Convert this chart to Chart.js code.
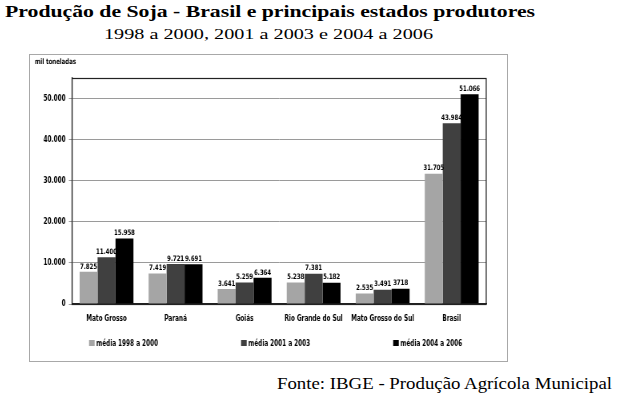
<!DOCTYPE html>
<html>
<head>
<meta charset="utf-8">
<script src="https://cdn.jsdelivr.net/npm/chart.js@4.4.1/dist/chart.umd.min.js"></script>
<style>
  html, body { margin: 0; padding: 0; background: #fff; }
  body { width: 618px; height: 401px; position: relative; overflow: hidden; }
  .txt { position: absolute; white-space: nowrap; font-family: 'Liberation Serif', 'Times New Roman', serif; color: #000; transform-origin: 0 0; }
  #title { left: 5px; top: 3px; font-size: 17px; line-height: 17px; font-weight: bold; }
  #subtitle { left: 104px; top: 27px; font-size: 15px; line-height: 15px; }
  #source { left: 277px; top: 376px; font-size: 16px; line-height: 16px; }
  #box { position: absolute; left: 29px; top: 54px; width: 477px; height: 306px; border: 1px solid #a8a8a8; }
  #box canvas { display: block; }
</style>
</head>
<body>
<div id="title" class="txt" data-w="530">Produção de Soja - Brasil e principais estados produtores</div>
<div id="subtitle" class="txt" data-w="329">1998 a 2000, 2001 a 2003 e 2004 a 2006</div>
<div id="box"><canvas id="c" width="596" height="306" style="width:477px;height:306px"></canvas></div>
<div id="source" class="txt" data-w="335">Fonte: IBGE - Produção Agrícola Municipal</div>
<script>
// ---- data ----
const categories = ['Mato Grosso', 'Paraná', 'Goiás', 'Rio Grande do Sul', 'Mato Grosso do Sul', 'Brasil'];
const seriesNames = ['média 1998 a 2000', 'média 2001 a 2003', 'média 2004 a 2006'];
const media1998a2000 = [7825, 7419, 3641, 5238, 2535, 31705];
const media2001a2003 = [11400, 9721, 5259, 7381, 3491, 43984];
const media2004a2006 = [15958, 9691, 6364, 5182, 3718, 51066];
const yTicks = [0, 10000, 20000, 30000, 40000, 50000];
const yMax = 55000;
const unitLabel = 'mil toneladas';
// label shown without thousands separator in the original
const labelOverrides = { '2,4': '3718' };

const seriesColors = ['#a5a5a5', '#404040', '#000000'];
const chartFont = "'DejaVu Sans Condensed', 'DejaVu Sans', sans-serif";
// canvas is drawn wider and displayed condensed (text looks like a condensed face)
const K = 477 / 596;

function fmt(v) { return String(v).replace(/\B(?=(\d{3})+(?!\d))/g, '.'); }

// stretch HTML texts to match reference width
document.querySelectorAll('.txt').forEach(el => {
  const target = parseFloat(el.dataset.w);
  const w = el.getBoundingClientRect().width;
  if (w > 0) el.style.transform = 'scaleX(' + (target / w) + ')';
});

const valueLabels = {
  id: 'valueLabels',
  afterDatasetsDraw(chart) {
    const ctx = chart.ctx;
    ctx.save();
    ctx.font = 'bold 7.5px ' + chartFont;
    ctx.fillStyle = '#000';
    ctx.textAlign = 'center';
    ctx.textBaseline = 'bottom';
    chart.data.datasets.forEach((ds, di) => {
      const meta = chart.getDatasetMeta(di);
      meta.data.forEach((bar, i) => {
        const key = di + ',' + i;
        const txt = labelOverrides[key] || fmt(ds.data[i]);
        ctx.fillText(txt, bar.x, bar.y - 1.5);
      });
    });
    ctx.restore();
  }
};

const plotBorder = {
  id: 'plotBorder',
  afterDatasetsDraw(chart) {
    const a = chart.chartArea;
    const ctx = chart.ctx;
    ctx.save();
    ctx.strokeStyle = '#222';
    ctx.lineWidth = 1.2;
    ctx.strokeRect(a.left, Math.round(a.top) + 0.5, a.right - a.left, Math.round(a.bottom - a.top));
    ctx.restore();
  }
};

const spreadLegend = {
  id: 'spreadLegend',
  afterDraw(chart) {
    const ctx = chart.ctx;
    const a = chart.chartArea;
    ctx.save();
    ctx.font = 'bold 8px ' + chartFont;
    ctx.textBaseline = 'middle';
    ctx.textAlign = 'left';
    const boxW = 7, boxH = 6, gapText = 2;
    const items = chart.data.datasets.map(ds => ({ text: ds.label, color: ds.backgroundColor, w: boxW + gapText + ctx.measureText(ds.label).width }));
    const x0 = a.left + 17 / K, x1 = a.right - 24 / K;
    const total = items.reduce((s, it) => s + it.w, 0);
    const gap = (x1 - x0 - total) / (items.length - 1);
    const y = 288;
    let x = x0;
    items.forEach(it => {
      ctx.fillStyle = it.color;
      ctx.fillRect(x, y - boxH / 2, boxW, boxH);
      ctx.fillStyle = '#000';
      ctx.fillText(it.text, x + boxW + gapText, y + 0.5);
      x += it.w + gap;
    });
    ctx.restore();
  }
};

new Chart(document.getElementById('c'), {
  type: 'bar',
  data: {
    labels: categories,
    datasets: [
      { label: seriesNames[0], data: media1998a2000, backgroundColor: seriesColors[0] },
      { label: seriesNames[1], data: media2001a2003, backgroundColor: seriesColors[1] },
      { label: seriesNames[2], data: media2004a2006, backgroundColor: seriesColors[2] }
    ]
  },
  options: {
    responsive: false,
    animation: false,
    devicePixelRatio: 1,
    layout: { padding: { left: 6, right: 26, top: 0, bottom: 30 } },
    datasets: { bar: { categoryPercentage: 0.78, barPercentage: 1.0, borderWidth: 0 } },
    plugins: {
      legend: { display: false },
      tooltip: { enabled: false },
      title: {
        display: true,
        text: unitLabel,
        align: 'start',
        color: '#000',
        font: { family: chartFont, size: 7.5, weight: 'bold', lineHeight: 1.2 },
        padding: { top: 3, bottom: 11 }
      }
    },
    scales: {
      x: {
        grid: { display: false, drawTicks: false },
        border: { display: true, color: '#222', width: 1.2 },
        ticks: { color: '#000', padding: 10, font: { family: chartFont, size: 8, weight: 'bold' }, maxRotation: 0, autoSkip: false },
        afterFit(s) { s.height = 27; }
      },
      y: {
        min: 0,
        max: yMax,
        afterBuildTicks(s) { s.ticks = yTicks.map(v => ({ value: v })); },
        grid: { color: '#9a9a9a', lineWidth: 1, tickLength: 4, tickColor: '#9a9a9a' },
        border: { display: true, color: '#222', width: 1.2 },
        ticks: { color: '#000', padding: 4, font: { family: chartFont, size: 8, weight: 'bold' }, callback: v => fmt(v) },
        afterFit(s) { s.width = 46.5; }
      }
    }
  },
  plugins: [valueLabels, plotBorder, spreadLegend]
});
</script>
</body>
</html>
